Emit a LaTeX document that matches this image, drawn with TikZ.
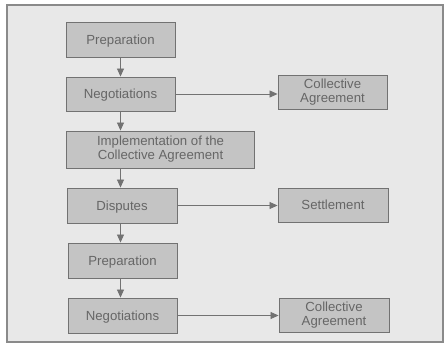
\documentclass[tikz,border=0pt]{standalone}
\usepackage{fontspec}
\setmainfont{Liberation Sans}
\usetikzlibrary{arrows.meta}
\definecolor{bgc}{HTML}{E8E8E8}
\definecolor{boxc}{HTML}{C4C4C4}
\definecolor{edgec}{HTML}{727272}
\definecolor{txtc}{HTML}{666666}
\definecolor{framec}{HTML}{8A8A8A}
\begin{document}
\begin{tikzpicture}[x=1pt,y=-1pt,
  stagebox/.style={draw=edgec, fill=boxc, line width=0.9pt, minimum width=109pt, minimum height=35pt,
    inner sep=0pt, align=center, text=txtc, font=\fontsize{13.2}{14}\selectfont},
  oneline/.style={text depth=0pt},
  flow/.style={draw=edgec, line width=0.8pt, -{Triangle[length=8pt,width=7pt]}}]
\useasboundingbox (0,0) rectangle (447,347);
\fill[white] (0,0) rectangle (447,347);
\draw[framec, fill=bgc, line width=1.2pt] (7,5) rectangle (443,342);
\node[stagebox, oneline] (prep1) at (120.5,39.5) {Preparation};
\node[stagebox, oneline, minimum height=34pt] (neg1) at (120.5,94) {Negotiations};
\node[stagebox, minimum height=34pt] (ca1) at (332.5,92.5) {Collective\\Agreement};
\node[stagebox, minimum width=188pt, minimum height=37pt] (impl) at (160.5,149.5) {Implementation of the\\Collective Agreement};
\node[stagebox, oneline, minimum width=110pt] (disp) at (122,205.5) {Disputes};
\node[stagebox, oneline, minimum width=110pt, minimum height=34pt] (sett) at (333,205) {Settlement};
\node[stagebox, oneline] (prep2) at (122.5,260.5) {Preparation};
\node[stagebox, oneline] (neg2) at (122.5,315.5) {Negotiations};
\node[stagebox, minimum width=110pt, minimum height=34pt] (ca2) at (334,315) {Collective\\Agreement};
\draw[flow] (prep1.south) -- (neg1.north);
\draw[flow] (neg1.south) -- (neg1.south |- impl.north);
\draw[flow] (neg1.south |- impl.south) -- (neg1.south |- disp.north);
\draw[flow] (neg1.south |- disp.south) -- (neg1.south |- prep2.north);
\draw[flow] (neg1.south |- prep2.south) -- (neg1.south |- neg2.north);
\draw[flow] (neg1.east) -- (neg1.east -| ca1.west);
\draw[flow] (disp.east) -- (disp.east -| sett.west);
\draw[flow] (neg2.east) -- (neg2.east -| ca2.west);
\end{tikzpicture}
\end{document}
